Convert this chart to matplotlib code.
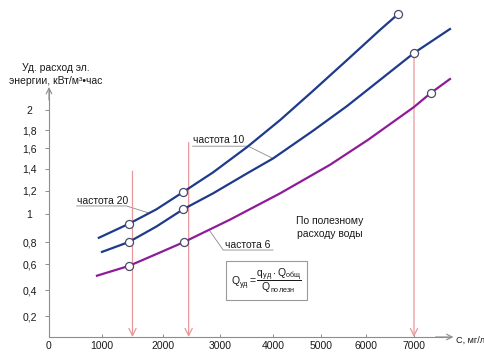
import matplotlib

matplotlib.use("Agg")
import matplotlib.pyplot as plt
import numpy as np
from matplotlib.ticker import FixedLocator, FuncFormatter

plt.rcParams["font.family"] = ["Liberation Sans", "DejaVu Sans"]
plt.rcParams["mathtext.fontset"] = "custom"
plt.rcParams["mathtext.rm"] = "Liberation Sans"
plt.rcParams["mathtext.it"] = "Liberation Sans:italic"

# salt concentration C, mg/l  ->  specific energy use, kWh per m3
C_FREQ20 = [940, 1440, 1890, 2350, 2880, 3510, 4150, 4830, 5580, 6290, 6670]
E_FREQ20 = [0.83, 0.93, 1.04, 1.19, 1.37, 1.61, 1.90, 2.19, 2.50, 2.80, 2.96]
C_FREQ10 = [1000, 1440, 1890, 2350, 2880, 3510, 4000, 4830, 5580, 6290, 7000, 7750]
E_FREQ10 = [0.71, 0.80, 0.91, 1.04, 1.18, 1.36, 1.50, 1.79, 2.04, 2.30, 2.57, 2.81]
C_FREQ6 = [905, 1440, 1890, 2370, 3190, 4150, 5200, 6040, 7000, 7350, 7750]
E_FREQ6 = [0.51, 0.585, 0.69, 0.80, 0.96, 1.18, 1.44, 1.69, 2.03, 2.17, 2.31]

# which of the points above are measured ones (open circles)
MARKED20 = [1, 3, 10]
MARKED10 = [1, 3, 10]
MARKED6 = [1, 3, 9]

# design concentrations (red arrows) and where each arrow starts
ARROW_C = [1500, 2450, 7000]
ARROW_TOP = [1.38, 1.66, 2.57]

X_TICKS = [0, 1000, 2000, 3000, 4000, 5000, 6000, 7000]
Y_TICKS = [0.2, 0.4, 0.6, 0.8, 1.0, 1.2, 1.4, 1.6, 1.8, 2.0]

# the axes were drawn by hand: the tick spacing is not even, so map
# each labelled value to its place (pixels) and interpolate between them
X_KNOTS = [-1000, 0, 1000, 2000, 3000, 4000, 5000, 6000, 7000, 10000]
X_KNOT_PX = [-4, 49, 102, 163, 220, 273, 321, 366, 414, 558]
Y_KNOTS = [-1.0, 0, 0.2, 0.4, 0.6, 0.8, 1.0, 1.2, 1.4, 1.6, 1.8, 2.0, 4.0]
Y_KNOT_PX = [-94, 16, 37, 63, 89, 111, 139, 162, 184, 205, 223, 243, 443]

W, H = 484, 353

BLUE = "#1e3a8a"
PURPLE = "#8e1c98"
ARROW = "#e8989a"
AXIS = "#8c8c8c"
TEXT = "#1a1a1a"


def fwd_x(v):
    return np.interp(v, X_KNOTS, X_KNOT_PX)


def inv_x(p):
    return np.interp(p, X_KNOT_PX, X_KNOTS)


def fwd_y(v):
    return np.interp(v, Y_KNOTS, Y_KNOT_PX)


def inv_y(p):
    return np.interp(p, Y_KNOT_PX, Y_KNOTS)


fig = plt.figure(figsize=(W / 100, H / 100), dpi=100)
ax = fig.add_axes([0, 0, 1, 1])
ax.set_xscale("function", functions=(fwd_x, inv_x))
ax.set_yscale("function", functions=(fwd_y, inv_y))
ax.set_xlim(inv_x(0), inv_x(W))
ax.set_ylim(inv_y(0), inv_y(H))

# axes with arrow tips
for side in ("top", "right"):
    ax.spines[side].set_visible(False)
ax.spines["left"].set_position(("data", 0))
ax.spines["bottom"].set_position(("data", 0))
ax.spines["left"].set_bounds(0, 2.2)
ax.spines["bottom"].set_bounds(0, 7750)
for side in ("left", "bottom"):
    ax.spines[side].set_color(AXIS)
    ax.spines[side].set_linewidth(0.8)
arrow_axis = dict(arrowstyle="->", color=AXIS, lw=0.8, shrinkA=0, shrinkB=0,
                  mutation_scale=10)
ax.annotate("", xy=(0, 2.23), xytext=(0, 2.1), arrowprops=arrow_axis)
ax.annotate("", xy=(7820, 0), xytext=(7450, 0), arrowprops=arrow_axis)

ax.xaxis.set_major_locator(FixedLocator(X_TICKS))
ax.yaxis.set_major_locator(FixedLocator(Y_TICKS))
ax.xaxis.set_minor_locator(FixedLocator([]))
ax.yaxis.set_minor_locator(FixedLocator([]))
ax.xaxis.set_major_formatter(FuncFormatter(lambda v, _: f"{v:g}"))
ax.yaxis.set_major_formatter(FuncFormatter(lambda v, _: f"{v:g}".replace(".", ",")))
ax.tick_params(axis="x", direction="in", length=2.5, width=0.7, color=AXIS,
               labelsize=7.5, labelcolor=TEXT, pad=3)
ax.tick_params(axis="y", direction="out", length=3, width=0.7, color=AXIS,
               labelsize=7.5, labelcolor=TEXT, pad=11)
for lab in ax.get_yticklabels():
    lab.set_horizontalalignment("center")

# arrows down to the concentration axis
for c, top in zip(ARROW_C, ARROW_TOP):
    ax.annotate("", xy=(c, 0), xytext=(c, top),
                arrowprops=dict(arrowstyle="->", color=ARROW, lw=0.9,
                                shrinkA=0, shrinkB=0, mutation_scale=13))

# curves with their measured points
marker_style = dict(marker="o", ms=5.8, mfc="white", mec="#4a4a6a", mew=0.9)
ax.plot(C_FREQ20, E_FREQ20, color=BLUE, lw=1.6, markevery=MARKED20,
        zorder=4, **marker_style)
ax.plot(C_FREQ10, E_FREQ10, color=BLUE, lw=1.6, markevery=MARKED10,
        zorder=4, **marker_style)
ax.plot(C_FREQ6, E_FREQ6, color=PURPLE, lw=1.6, markevery=MARKED6,
        zorder=4, **marker_style)

# curve labels with leader lines
leader = dict(color="#8a8a8a", lw=0.6)
ax.text(520, 1.11, "частота 20", fontsize=7.5, color=TEXT, va="center", ha="left")
ax.plot([520, 1400, 1760], [1.07, 1.07, 1.01], **leader)
ax.text(2520, 1.69, "частота 10", fontsize=7.5, color=TEXT, va="center", ha="left")
ax.plot([2520, 3530, 4000], [1.62, 1.62, 1.50], **leader)
ax.text(3090, 0.775, "частота 6", fontsize=7.5, color=TEXT, va="center", ha="left")
ax.plot([2820, 3060, 4000], [0.88, 0.727, 0.727], **leader)

ax.text(5200, 0.905, "По полезному\nрасходу воды", fontsize=7.5, color=TEXT,
        ha="center", va="center", linespacing=1.45)

ax.text(3880, 0.47,
        r"$\mathrm{Q_{уд}} = \dfrac{\mathrm{q_{уд}\cdot Q_{общ}}}{\mathrm{Q_{полезн}}}$",
        fontsize=7.5, color=TEXT, ha="center", va="center",
        bbox=dict(boxstyle="square,pad=0.5", fc="white", ec="#9a9a9a", lw=0.8))

ax.text(130, 2.355, "Уд. расход эл.\nэнергии, кВт/м³•час", fontsize=7.5,
        color=TEXT, ha="center", va="center", linespacing=1.3)
ax.text(7880, -0.03, "C, мг/л", fontsize=6.6, color=TEXT, ha="left", va="center")

fig.savefig("out.png", dpi=100)
